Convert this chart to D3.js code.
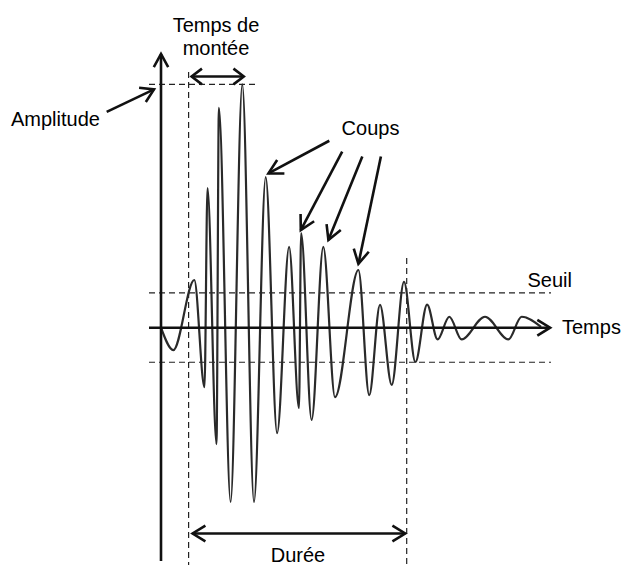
<!DOCTYPE html>
<html><head><meta charset="utf-8">
<script src="https://cdn.jsdelivr.net/npm/d3@7"></script>
<style>html,body{margin:0;padding:0;background:#fff;overflow:hidden}svg{display:block}</style>
</head><body>
<svg id="chart" width="624" height="565"></svg>
<script>
// ---- Data (time in µs, amplitude in % of peak) ----
const waveTimes = [0, 4.1, 11.1, 14.5, 15.5, 18.5, 19.3, 23.2, 27.1, 31.0, 34.9, 38.7, 42.7, 46.0, 46.7, 50.2,
  54.1, 58.0, 65.8, 69.4, 73.0, 76.9, 81.0, 84.8, 88.7, 92.2, 96.1, 100.2, 108.0, 115.8, 120.2, 126.7];
const waveAmplitudes = [0, -9.2, 19.6, -24.4, 57.4, -47.8, 90.3, -71.6, 100, -71.6, 61.9, -43.3, 33.2, -33.0, 38.9, -37.9,
  33.2, -28.5, 23.7, -27.7, 9.4, -23.5, 18.8, -14.1, 9.5, -4.8, 4.5, -4.8, 4.5, -4.8, 4.5, 0.3];
const thresholdLevels = [14.3, -14.2];
const durationBounds = [9.2, 81.9];
const peakPoint = [27.1, 100];
const hitTailTimes = [56.1, 60.4, 67.1, 73.3];
const hitTailAmps = [76.8, 72.3, 70.3, 70.3];
const hitTipTimes = [35.8, 46.6, 55.8, 65.8];
const hitTipAmps = [63.4, 40.1, 36.0, 26.2];
const labelTexts = ["Temps de", "montée", "Amplitude", "Coups", "Seuil", "Temps", "Durée"];

// ---- Scales ----
const x = d3.scaleLinear().domain([0, 130]).range([161, 551]);
const y = d3.scaleLinear().domain([-100, 100]).range([571.1, 84.3]);

const svg = d3.select("#chart");
const ink = "#111";

function arrowHead(g, x1, y1, x2, y2, len, ang) {
  const a = Math.atan2(y2 - y1, x2 - x1);
  const p = [a + Math.PI - ang, a + Math.PI + ang].map(b => [x2 + len * Math.cos(b), y2 + len * Math.sin(b)]);
  g.append("path")
    .attr("d", `M${p[0][0]},${p[0][1]}L${x2},${y2}L${p[1][0]},${p[1][1]}`)
    .attr("fill", "none").attr("stroke", ink).attr("stroke-width", 2.6)
    .attr("stroke-linejoin", "miter").attr("stroke-linecap", "butt");
}
function arrow(g, x1, y1, x2, y2, len, ang, both) {
  g.append("line").attr("x1", x1).attr("y1", y1).attr("x2", x2).attr("y2", y2)
    .attr("stroke", ink).attr("stroke-width", 2.6);
  arrowHead(g, x1, y1, x2, y2, len, ang);
  if (both) arrowHead(g, x2, y2, x1, y1, len, ang);
}
function dashed(g, x1, y1, x2, y2) {
  g.append("line").attr("x1", x1).attr("y1", y1).attr("x2", x2).attr("y2", y2)
    .attr("stroke", "#222").attr("stroke-width", 1.2).attr("stroke-dasharray", "6,4");
}

// ---- Dashed guides ----
const guides = svg.append("g");
thresholdLevels.forEach(v => dashed(guides, x(-4), y(v), x(130), y(v)));
dashed(guides, x(-4), y(peakPoint[1]), x(32), y(peakPoint[1]));
dashed(guides, x(durationBounds[0]), 72, x(durationBounds[0]), 565);
dashed(guides, x(durationBounds[1]), 258, x(durationBounds[1]), 565);

// ---- Waveform ----
const line = d3.line().x((d, i) => x(waveTimes[i])).y((d, i) => y(waveAmplitudes[i])).curve(d3.curveMonotoneX);
svg.append("path").datum(waveTimes).attr("d", line)
  .attr("fill", "none").attr("stroke", "#2a2a2a").attr("stroke-width", 2.2).attr("stroke-linejoin", "round");

// ---- Axes ----
const axes = svg.append("g");
axes.append("line").attr("x1", x(0)).attr("y1", 561).attr("x2", x(0)).attr("y2", 54)
  .attr("stroke", ink).attr("stroke-width", 2.6);
arrowHead(axes, x(0), 561, x(0), 54, 15, 0.5);
axes.append("line").attr("x1", x(-4)).attr("y1", y(0)).attr("x2", x(129.7)).attr("y2", y(0))
  .attr("stroke", ink).attr("stroke-width", 2.6);
arrowHead(axes, x(-4), y(0), x(129.7), y(0), 15, 0.55);

// ---- Annotations ----
const ann = svg.append("g");
// rise time
arrow(ann, x(durationBounds[0]) + 3, 76.5, x(peakPoint[0]) + 1.5, 76.5, 13, 0.65, true);
// duration
arrow(ann, x(durationBounds[0]) + 4, 533.5, x(durationBounds[1]) - 1.5, 533.5, 15, 0.55, true);
// amplitude
arrow(ann, x(-18.1), y(88.7), x(-2.33), y(97.9), 15, 0.55, false);
// hits
hitTailTimes.forEach((t, i) => arrow(ann, x(t), y(hitTailAmps[i]), x(hitTipTimes[i]), y(hitTipAmps[i]), 16, 0.5, false));

// ---- Labels ----
const txt = svg.append("g").attr("font-family", "'Liberation Sans', Arial, sans-serif")
  .attr("font-size", 20).attr("fill", "#000");
const labelPos = [[216, 31.5, "middle"], [216, 55, "middle"], [11, 126, "start"], [370.5, 135, "middle"],
  [527.5, 287, "start"], [562, 334, "start"], [298, 562, "middle"]];
labelTexts.forEach((s, i) => txt.append("text").attr("x", labelPos[i][0]).attr("y", labelPos[i][1])
  .attr("text-anchor", labelPos[i][2]).text(s));
</script>
</body></html>
